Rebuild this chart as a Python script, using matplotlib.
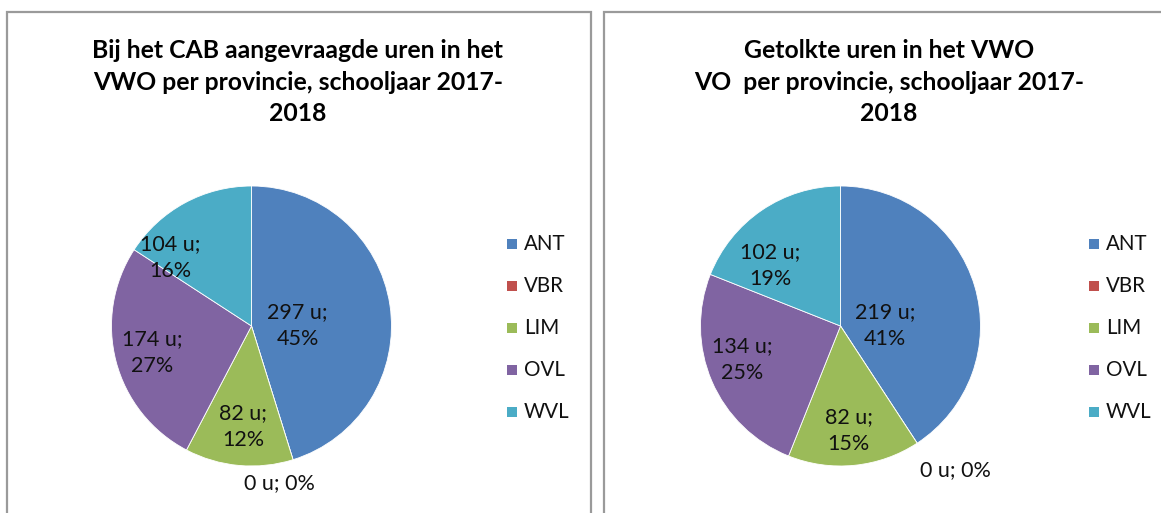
import matplotlib.pyplot as plt
from matplotlib.patches import Rectangle

# Data
categories = ['ANT', 'VBR', 'LIM', 'OVL', 'WVL']
colors = ['#4F81BD', '#C0504D', '#9BBB59', '#8064A2', '#4BACC6']

left_title = 'Bij het CAB aangevraagde uren in het\nVWO per provincie, schooljaar 2017-\n2018'
left_hours = [297, 0, 82, 174, 104]
left_pct = [45, 0, 12, 27, 16]

right_title = 'Getolkte uren in het VWO\nVO  per provincie, schooljaar 2017-\n2018'
right_hours = [219, 0, 82, 134, 102]
right_pct = [41, 0, 15, 25, 19]

# Layout (pixels of the 1161x513 picture)
W, H = 1161, 513
RADIUS = 140
left_label_pos = [(0.33, 0.0), (0.20, -1.12), (-0.06, -0.72), (-0.71, -0.19), (-0.58, 0.49)]
right_label_pos = [(0.32, 0.0), (0.82, -1.03), (0.06, -0.75), (-0.70, -0.24), (-0.50, 0.43)]

plt.rcParams['font.family'] = ['Lato', 'DejaVu Sans']

fig = plt.figure(figsize=(W / 100, H / 100), dpi=100)


def fx(x):
    return x / W


def fy(y):
    return 1 - y / H


# Chart area borders
def draw_border(x0, x1, y0):
    fig.patches.append(Rectangle((fx(x0), fy(H + 20)), fx(x1) - fx(x0), fy(y0) - fy(H + 20),
                                 transform=fig.transFigure, fill=False,
                                 edgecolor='#9a9a9a', linewidth=1.6))


draw_border(7, 591, 11.5)
draw_border(604, 1180, 11.5)


def draw_pie(cx, cy, hours, pct, title, title_x, label_pos, leg_x):
    half = 200
    ax = fig.add_axes([fx(cx - half), fy(cy + half), 2 * half / W, 2 * half / H])
    lim = half / RADIUS
    wedges, _ = ax.pie(hours, colors=colors, startangle=90, counterclock=False,
                       wedgeprops=dict(edgecolor='white', linewidth=0.6))
    ax.set_xlim(-lim, lim)
    ax.set_ylim(-lim, lim)
    ax.set_aspect('equal')
    ax.axis('off')

    for h, p, (lx, ly) in zip(hours, pct, label_pos):
        outside = (lx ** 2 + ly ** 2) ** 0.5 > 1
        sep = '; ' if outside else ';\n'
        ax.text(lx, ly, f'{h} u{sep}{p}%', ha='center', va='center',
                fontsize=15.5, color='#111111', linespacing=1.43, clip_on=False)

    fig.text(fx(title_x), fy(82), title, ha='center', va='center', fontsize=17.8,
             fontweight='bold', color='black', linespacing=1.45, multialignment='center')

    # legend
    for i, (name, c) in enumerate(zip(categories, colors)):
        yc = 244 + i * 42
        fig.patches.append(Rectangle((fx(leg_x), fy(yc + 5)), 10 / W, 10 / H,
                                     transform=fig.transFigure, facecolor=c,
                                     edgecolor='none'))
        fig.text(fx(leg_x + 17), fy(yc), name, ha='left', va='center',
                 fontsize=14.8, color='#111111')


draw_pie(251.5, 326, left_hours, left_pct, left_title, 298, left_label_pos, 507)
draw_pie(840.5, 326, right_hours, right_pct, right_title, 889, right_label_pos, 1089)

fig.savefig('out.png', dpi=100, facecolor='white')
